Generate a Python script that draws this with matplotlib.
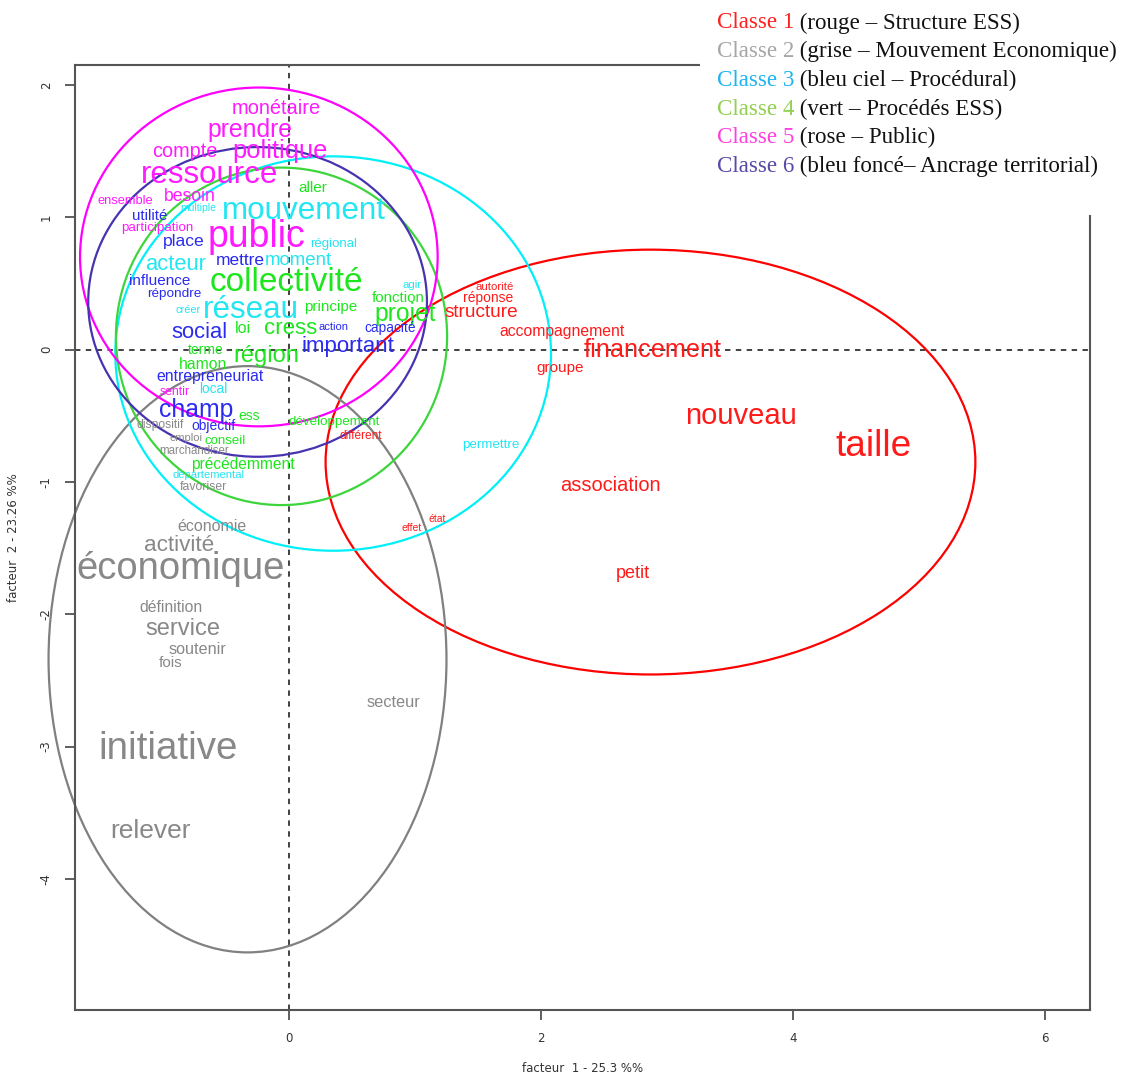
import matplotlib
matplotlib.use("Agg")
import matplotlib.pyplot as plt
from matplotlib.patches import Ellipse, Rectangle

# Classes: 1 rouge, 2 grise, 3 bleu ciel, 4 vert, 5 rose, 6 bleu fonce
class_word_colors = ['#FF1A1A', '#888888', '#22E6F2', '#1EE61E', '#FF1AFF', '#2A2AF0']
class_ell_colors = ['#FF0000', '#808080', '#00F0F8', '#3CD63C', '#FF00FF', '#4633B0']

# Ellipses per class (centre x, centre y, width, height in factor units)
ell_cx = [2.87, -0.33, 0.35, -0.06, -0.24, -0.25]
ell_cy = [-0.85, -2.34, -0.03, 0.10, 0.70, 0.36]
ell_w = [5.16, 3.16, 3.46, 2.63, 2.84, 2.69]
ell_h = [3.21, 4.43, 2.98, 2.55, 2.56, 2.34]

# Words: label, factor 1, factor 2, font size, class
words = ['monétaire', 'prendre', 'compte', 'politique', 'ressource', 'besoin',
         'ensemble', 'participation', 'public', 'sentir',
         'multiple', 'mouvement', 'régional', 'moment', 'acteur', 'réseau',
         'créer', 'agir', 'local', 'permettre', 'départemental',
         'aller', 'collectivité', 'fonction', 'principe', 'projet', 'loi',
         'cress', 'région', 'terme', 'hamon', 'ess', 'conseil',
         'développement', 'précédemment',
         'utilité', 'place', 'mettre', 'influence', 'répondre', 'action',
         'capacité', 'social', 'important', 'entrepreneuriat', 'champ', 'objectif',
         'dispositif', 'emploi', 'marchandiser', 'favoriser', 'économie',
         'activité', 'économique', 'définition', 'service', 'soutenir', 'fois',
         'secteur', 'initiative', 'relever',
         'autorité', 'réponse', 'structure', 'accompagnement', 'financement',
         'groupe', 'différent', 'nouveau', 'taille', 'association', 'état',
         'effet', 'petit']
word_x = [-0.10, -0.31, -0.83, -0.07, -0.63, -0.79, -1.30, -1.05, -0.26, -0.91,
          -0.72, 0.12, 0.35, 0.07, -0.90, -0.30, -0.80, 0.98, -0.60, 1.60, -0.64,
          0.19, -0.02, 0.87, 0.33, 0.92, -0.37, 0.01, -0.18, -0.66, -0.68, -0.32,
          -0.51, 0.36, -0.37,
          -1.11, -0.84, -0.39, -1.03, -0.91, 0.35, 0.80, -0.71, 0.47, -0.63,
          -0.74, -0.60,
          -1.02, -0.82, -0.75, -0.68, -0.61, -0.87, -0.86, -0.94, -0.84, -0.73,
          -0.94, 0.83, -0.96, -1.10,
          1.63, 1.58, 1.53, 2.17, 2.89, 2.15, 0.57, 3.59, 4.64, 2.55, 1.18,
          0.97, 2.73]
word_y = [1.82, 1.66, 1.50, 1.50, 1.32, 1.16, 1.12, 0.92, 0.85, -0.32,
          1.07, 1.05, 0.80, 0.67, 0.64, 0.30, 0.30, 0.49, -0.30, -0.72, -0.95,
          1.22, 0.51, 0.39, 0.32, 0.27, 0.16, 0.16, -0.05, 0.00, -0.11, -0.50,
          -0.69, -0.55, -0.87,
          1.01, 0.82, 0.67, 0.52, 0.42, 0.17, 0.16, 0.13, 0.02, -0.20, -0.46,
          -0.58,
          -0.57, -0.67, -0.77, -1.04, -1.34, -1.48, -1.66, -1.95, -2.11, -2.27,
          -2.37, -2.67, -3.02, -3.64,
          0.47, 0.39, 0.28, 0.14, 0.00, -0.14, -0.65, -0.50, -0.73, -1.03, -1.28,
          -1.35, -1.69]
word_size = [14.4, 17.8, 14.3, 18.4, 22.5, 12.7, 9.3, 9.6, 27, 8.8,
             7.5, 22.6, 9.5, 13.4, 15.8, 22.6, 7.9, 8.2, 9.8, 9.6, 8.1,
             11, 24, 10.9, 11, 17.8, 11.5, 16, 17, 10, 11.3, 10, 9.5, 9.6, 11.2,
             10.8, 12.6, 12.5, 11, 9.7, 8, 9.9, 15.8, 16, 11.3, 17.8, 10,
             8.7, 8, 8.3, 8.8, 11.5, 16.2, 27.5, 11.3, 17, 11.7, 11, 11.8, 27.7, 19,
             8.2, 10, 13.7, 11.3, 18.2, 11, 8.6, 21, 26.6, 14.4, 7.5, 7.5, 13]
word_class = [5] * 10 + [3] * 11 + [4] * 14 + [6] * 12 + [2] * 14 + [1] * 13

legend_names = ['Classe 1', 'Classe 2', 'Classe 3', 'Classe 4', 'Classe 5', 'Classe 6']
legend_desc = [' (rouge – Structure ESS)', ' (grise – Mouvement Economique)',
               ' (bleu ciel – Procédural)', ' (vert – Procédés ESS)',
               ' (rose – Public)', ' (bleu foncé– Ancrage territorial)']
legend_colors = ['#FF2020', '#A6A6A6', '#1EB4F0', '#92D050', '#FF40E0', '#5A48A8']

fig = plt.figure(figsize=(11.33, 10.75), dpi=100)
ax = fig.add_axes([0.0662, 0.0605, 0.8958, 0.879])
ax.set_xlim(-1.70, 6.36)
ax.set_ylim(-4.99, 2.15)

ax.axvline(0, color='#333333', linestyle=(0, (3, 3)), linewidth=1.3, zorder=1)
ax.axhline(0, color='#333333', linestyle=(0, (3, 3)), linewidth=1.3, zorder=1)

for i in range(6):
    e = Ellipse((ell_cx[i], ell_cy[i]), ell_w[i], ell_h[i], fill=False,
                edgecolor=class_ell_colors[i], linewidth=1.6, clip_on=False, zorder=2)
    ax.add_patch(e)

for w, x, y, s, c in zip(words, word_x, word_y, word_size, word_class):
    ax.text(x, y, w, fontsize=s, color=class_word_colors[c - 1], ha='center',
            va='center', family='Liberation Sans', zorder=3)

for sp in ax.spines.values():
    sp.set_color('#555555')
    sp.set_linewidth(1.5)
ax.set_xticks([0, 2, 4, 6])
ax.set_yticks([-4, -3, -2, -1, 0, 1, 2])
ax.set_xticklabels(['0', '2', '4', '6'], fontsize=8.5, color='#333333')
ax.set_yticklabels(['-4', '-3', '-2', '-1', '0', '1', '2'], fontsize=8.5,
                   color='#333333', rotation=90, va='center')
ax.tick_params(length=7, width=1.2, color='#444444', pad=9)
ax.set_xlabel('facteur  1 - 25.3 %%', fontsize=8.5, color='#333333', labelpad=12)
ax.set_ylabel('facteur  2 - 23.26 %%', fontsize=8.5, color='#333333', labelpad=14)

# white legend box pasted over the top-right corner
fig.add_artist(Rectangle((700 / 1133, 1 - 215 / 1075), 1 - 700 / 1133, 215 / 1075,
                         transform=fig.transFigure, facecolor='white',
                         edgecolor='none', zorder=5))
for i in range(6):
    ypos = 1 - (23 + 28.7 * i) / 1075
    t = fig.text(717 / 1133, ypos, legend_names[i], color=legend_colors[i],
                 fontsize=16.6, family='Liberation Serif', va='center', zorder=6)
    fig.add_artist(plt.Annotation(legend_desc[i], xy=(1, 0.5), xycoords=t,
                                  va='center', fontsize=16.6, color='#111111',
                                  family='Liberation Serif', zorder=6))

fig.savefig('out.png', dpi=100)
